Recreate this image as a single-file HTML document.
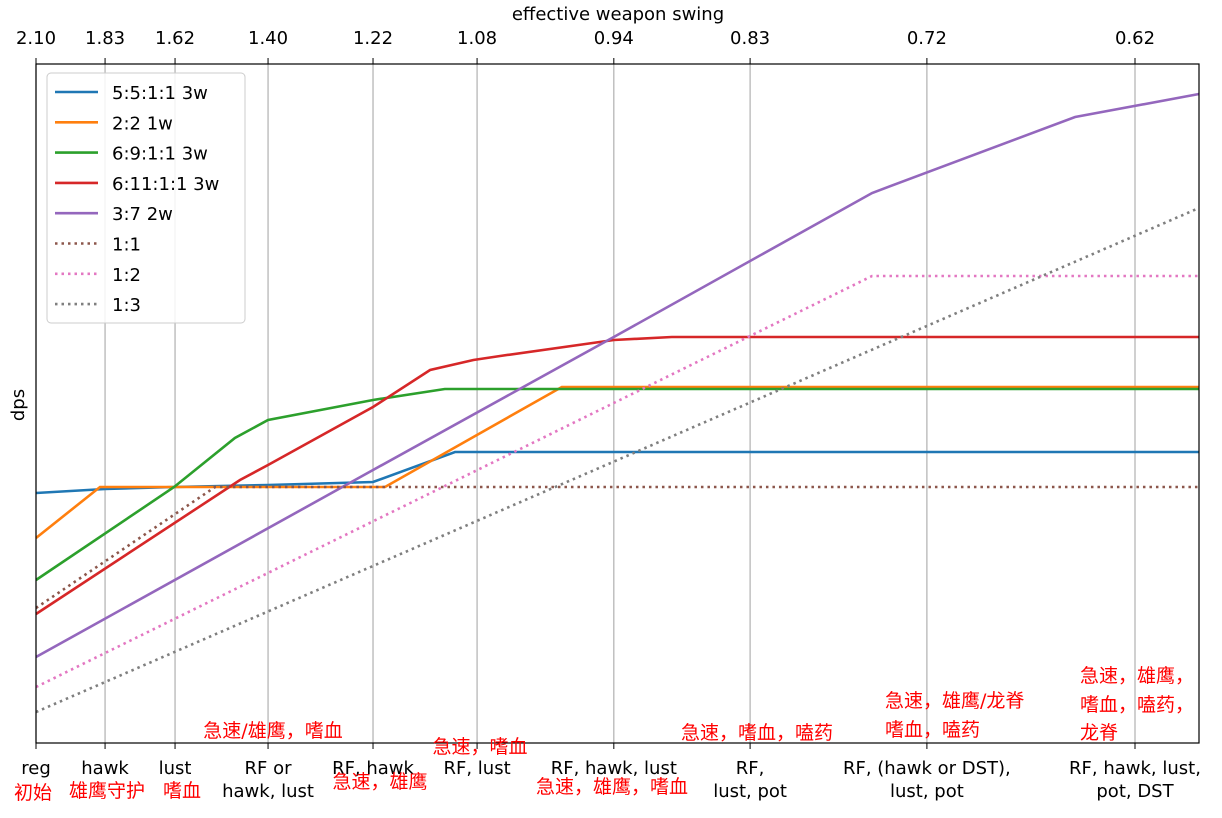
<!DOCTYPE html>
<html><head><meta charset="utf-8"><style>
body{margin:0;background:#fff;}
text{font-family:"DejaVu Sans","Liberation Sans","Noto Sans CJK SC",sans-serif;}
</style></head><body>
<svg id="chart" width="1222" height="813" xmlns="http://www.w3.org/2000/svg">
<g id="grid"></g><g id="series"></g>
<rect x="36" y="64" width="1163" height="679" fill="none" stroke="#000" stroke-width="1.2"/>
<g id="axes"></g>
<text x="618" y="20" font-size="18" text-anchor="middle">effective weapon swing</text>
<text x="24" y="405" font-size="18" text-anchor="middle" transform="rotate(-90 24 405)">dps</text>
<g id="legend"></g>
</svg>
<script>
const tickHaste=[1.0,1.150,1.302,1.504,1.732,1.958,2.255,2.551,2.935,3.387];
const swingLabels=["2.10","1.83","1.62","1.40","1.22","1.08","0.94","0.83","0.72","0.62"];
const bottomLabels=[["reg"],["hawk"],["lust"],["RF or","hawk, lust"],["RF, hawk"],["RF, lust"],["RF, hawk, lust"],["RF,","lust, pot"],["RF, (hawk or DST),","lust, pot"],["RF, hawk, lust,","pot, DST"]];
const seriesNames=["5:5:1:1 3w","2:2 1w","6:9:1:1 3w","6:11:1:1 3w","3:7 2w","1:1","1:2","1:3"];
const seriesColors=["#1f77b4","#ff7f0e","#2ca02c","#d62728","#9467bd","#8c564b","#e377c2","#7f7f7f"];
const seriesDotted=[false,false,false,false,false,true,true,true];
const s1x=[1.0,1.15,1.30,1.504,1.732,1.910,3.526], s1y=[250,254,256,258,261,291,291];
const s2x=[1.0,1.139,1.758,2.142,3.526], s2y=[205,256,256,356,356];
const s3x=[1.0,1.30,1.432,1.504,1.732,1.888,3.526], s3y=[163,256,305,323,343,354,354];
const s4x=[1.0,1.443,1.504,1.732,1.856,1.95,2.008,2.255,2.381,3.526], s4y=[129,263,278,336,373,383,387,403,406,406];
const s5x=[1.0,1.732,2.255,2.816,3.257,3.526], s5y=[86,273,406,550,626,649];
const s6x=[1.0,1.389,3.526], s6y=[135,256,256];
const s7x=[1.0,2.816,3.526], s7y=[56,467,467];
const s8x=[1.0,3.526], s8y=[31,535];
const allX=[s1x,s2x,s3x,s4x,s5x,s6x,s7x,s8x], allY=[s1y,s2y,s3y,s4y,s5y,s6y,s7y,s8y];
const L=36,R=1199,T=64,B=743,XMIN=1.0,XMAX=3.526,YMIN=0,YMAX=679;
const sx=h=>L+(h-XMIN)/(XMAX-XMIN)*(R-L);
const sy=v=>B-(v-YMIN)/(YMAX-YMIN)*(B-T);
const NS="http://www.w3.org/2000/svg";
function mk(tag,parent,attrs){const e=document.createElementNS(NS,tag);for(const k in attrs)e.setAttribute(k,attrs[k]);parent.appendChild(e);return e;}
const grid=document.getElementById('grid'),axes=document.getElementById('axes'),ser=document.getElementById('series'),leg=document.getElementById('legend');
tickHaste.forEach((h,i)=>{
  const x=sx(h);
  const gl=mk('line',grid,{x1:x,x2:x,y1:T,y2:B,stroke:'#b0b0b0','stroke-width':1.2});
  
  
  const t1=mk('line',axes,{x1:x,x2:x,y1:T,y2:T-6,stroke:'#000'});
  
  
  const t2=mk('line',axes,{x1:x,x2:x,y1:B,y2:B+6,stroke:'#000'});
  
  
  const tl=mk('text',axes,{x:x,y:44,'font-size':18,'text-anchor':'middle'});
  tl.textContent=swingLabels[i];
  
  
  bottomLabels[i].forEach((ln,j)=>{
    const b=mk('text',axes,{x:x,y:774+j*23,'font-size':18,'text-anchor':'middle'});
    b.textContent=ln;
    
    
  });
});
allX.forEach((xs,i)=>{
  const pts=xs.map((h,j)=>sx(h).toFixed(1)+','+sy(allY[i][j]).toFixed(1)).join(' ');
  const p=mk('polyline',ser,{points:pts,fill:'none',stroke:seriesColors[i],'stroke-width':2.6});
  if(seriesDotted[i])p.setAttribute('stroke-dasharray','2.5,4');
  
  
});
const lb=mk('rect',leg,{x:47,y:73,width:198,height:250,rx:4,fill:'#fff','fill-opacity':0.85,stroke:'#ccc'});


seriesNames.forEach((n,i)=>{
  const y=92+i*30.3;
  const l=mk('line',leg,{x1:55,x2:98,y1:y,y2:y,stroke:seriesColors[i],'stroke-width':2.6});
  if(seriesDotted[i])l.setAttribute('stroke-dasharray','2.5,4');
  
  
  const t=mk('text',leg,{x:112,y:y+7,'font-size':18});
  t.textContent=n;
  
  
});
const notes=[[33,799,'初始','middle'],[107,797,'雄鹰守护','middle'],[182,797,'嗜血','middle'],[273,737,'急速/雄鹰，嗜血','middle'],[380,788,'急速，雄鹰','middle'],[480,753,'急速，嗜血','middle'],[612,793,'急速，雄鹰，嗜血','middle'],[757,739,'急速，嗜血，嗑药','middle'],[885,707,'急速，雄鹰/龙脊','start'],[885,736,'嗜血，嗑药','start'],[1080,682,'急速，雄鹰，','start'],[1080,711,'嗜血，嗑药，','start'],[1080,739,'龙脊','start']];
notes.forEach(n=>{
  const t=mk('text',axes,{x:n[0],y:n[1],'font-size':19,fill:'#ff0000','text-anchor':n[3]});
  t.textContent=n[2];
  
  
});
</script>
</body></html>
